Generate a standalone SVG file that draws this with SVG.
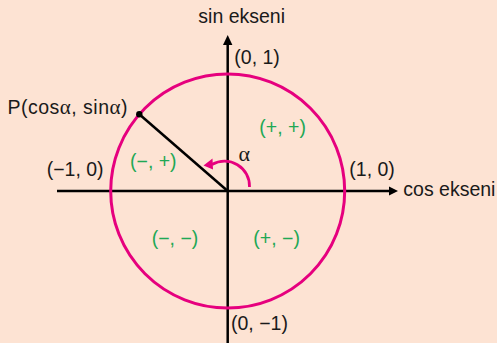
<svg xmlns="http://www.w3.org/2000/svg" width="497" height="343" viewBox="0 0 497 343">
<style>
text{font-family:"Liberation Sans",Arial,sans-serif;font-size:19.5px;fill:#1a1a1a}
.g{fill:#1fa855}
.a{font-family:"Liberation Serif","Times New Roman",serif;font-size:21px}
.ax{stroke:#000;stroke-width:2.5;fill:none}
</style>
<rect width="497" height="343" fill="#fde3d3"/>
<g id="connectors">
<line class="ax" x1="57" y1="191" x2="392" y2="191"/>
<polygon points="398,191 389,186.5 389,195.5" fill="#000"/>
<line class="ax" x1="227.7" y1="343" x2="227.7" y2="42"/>
<polygon points="227.7,35 223,45 232.4,45" fill="#000"/>
<circle cx="227.7" cy="191" r="117" fill="none" stroke="#e6007e" stroke-width="3"/>
<line x1="139.3" y1="114.3" x2="227.7" y2="191" stroke="#000" stroke-width="2.5"/>
<path d="M249.5,187 A25,25 0 0 0 212,164.5" fill="none" stroke="#e6007e" stroke-width="2.8"/>
<polygon points="203.5,165.5 212.5,158.5 213,169.5" fill="#e6007e"/>
</g>
<g id="point-P">
<circle cx="139.3" cy="114.3" r="3.2" fill="#000"/>
<text x="7.5" y="113.5" textLength="120">P(cos<tspan class="a">α</tspan>, sin<tspan class="a">α</tspan>)</text>
</g>
<g id="labels">
<text x="198.3" y="22.5">sin ekseni</text>
<text x="403.3" y="196">cos ekseni</text>
<text x="234.3" y="64">(0, 1)</text>
<text x="231" y="330">(0, −1)</text>
<text x="46.7" y="176">(−1, 0)</text>
<text x="349.3" y="176">(1, 0)</text>
<text class="a" x="238.5" y="161" style="font-size:22px">α</text>
</g>
<g id="quadrants">
<text class="g" x="259.3" y="133.5">(+, +)</text>
<text class="g" x="130" y="168">(−, +)</text>
<text class="g" x="151.7" y="245">(−, −)</text>
<text class="g" x="253.3" y="245">(+, −)</text>
</g>
</svg>
